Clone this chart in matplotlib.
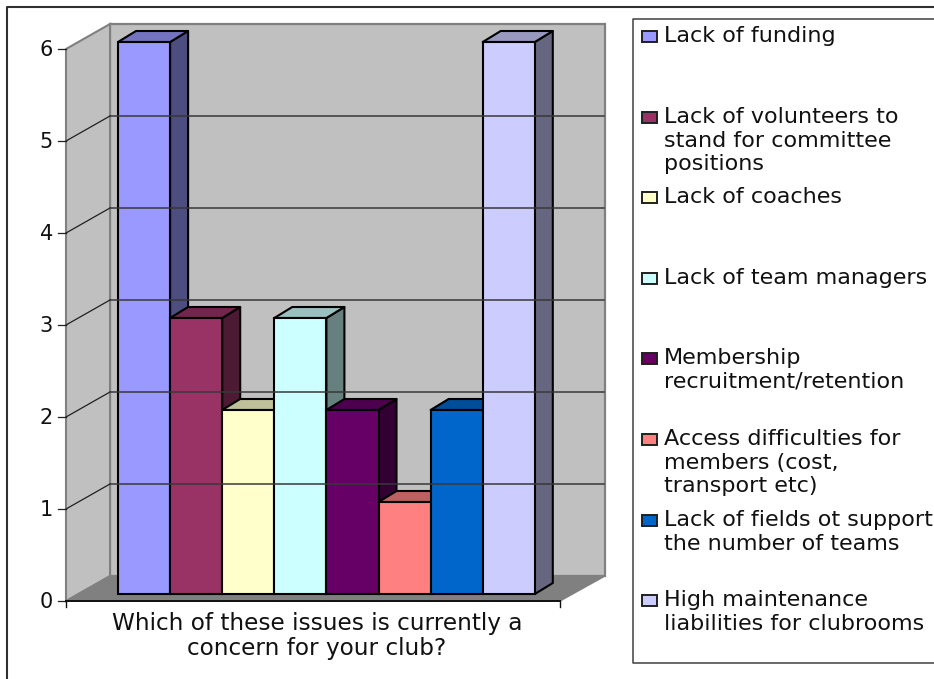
import matplotlib
matplotlib.use("Agg")
import matplotlib.pyplot as plt
from matplotlib.patches import Polygon, Rectangle

# data
issues = ["Lack of funding",
          "Lack of volunteers to\nstand for committee\npositions",
          "Lack of coaches",
          "Lack of team managers",
          "Membership\nrecruitment/retention",
          "Access difficulties for\nmembers (cost,\ntransport etc)",
          "Lack of fields ot support\nthe number of teams",
          "High maintenance\nliabilities for clubrooms"]
counts = [6, 3, 2, 3, 2, 1, 2, 6]
colors = ["#9999FF", "#993366", "#FFFFCC", "#CCFFFF",
          "#660066", "#FF8080", "#0066CC", "#CCCCFF"]
y_ticks = [0, 1, 2, 3, 4, 5, 6]
x_label = "Which of these issues is currently a\nconcern for your club?"

W, H = 934, 679
FONT = "DejaVu Sans"
FS = 16.0

# pixel layout of the fake 3d box
BAR_W = 52.1   # px per category
VAL_H = 92.0   # px per value
X0 = 118.0     # px of first bar left
Y0 = 601.0     # px of value 0 on the front plane


def shade(c, f):
    r, g, b = matplotlib.colors.to_rgb(c)
    return (r * f, g * f, b * f)


fig = plt.figure(figsize=(W / 100, H / 100), dpi=100)

# background axes in pixels: frames, walls, legend
bg = fig.add_axes([0, 0, 1, 1])
bg.set_xlim(0, W)
bg.set_ylim(H, 0)
bg.axis("off")

bg.plot([7, 7, W], [H, 6.5, 6.5], color="#303030", lw=1.5)
bg.plot([W, 632.5, 632.5, W], [19, 19, 663, 663], color="#404040", lw=1.1)

wall = "#C0C0C0"
edge = "#808080"
bg.add_patch(Polygon([(110, 24), (605, 24), (605, 576), (110, 576)], fc=wall, ec=edge, lw=1.6))
bg.add_patch(Polygon([(66, 601), (66, 49), (110, 24), (110, 576)], fc=wall, ec=edge, lw=1.5))
bg.add_patch(Polygon([(66, 601), (560, 601), (605, 576), (110, 576)], fc="#808080", ec=edge, lw=1.0))

# data axes on top: x in categories, y in values
ax = fig.add_axes([0, 0, 1, 1])
ax.set_xlim(-X0 / BAR_W, (W - X0) / BAR_W)
ax.set_ylim((Y0 - H) / VAL_H, Y0 / VAL_H)
ax.axis("off")
ax.patch.set_alpha(0)

WALL_L = (66 - X0) / BAR_W
WALL_R = (560 - X0) / BAR_W
DEPTH_X = 44 / BAR_W
DEPTH_Y = 25 / VAL_H
BAR_LIFT = 7 / VAL_H
BAR_DX = 18 / BAR_W
BAR_DY = 11 / VAL_H
TICK = 8 / BAR_W

for v in y_ticks:
    if 0 < v < y_ticks[-1]:
        ax.plot([WALL_L, WALL_L + DEPTH_X], [v, v + DEPTH_Y], color="#202020", lw=0.9)
        ax.plot([WALL_L + DEPTH_X, WALL_R + DEPTH_X], [v + DEPTH_Y, v + DEPTH_Y], color="#383838", lw=1.1)
    ax.plot([WALL_L - TICK, WALL_L], [v, v], color="#202020", lw=0.9)
    ax.text(WALL_L - 13 / BAR_W, v - 1 / VAL_H, str(v), ha="right", va="center",
            family=FONT, fontsize=15, color="#111111")

ax.plot([WALL_L, WALL_R], [0, 0], color="#101010", lw=1.4)
for x in [WALL_L, WALL_R]:
    ax.plot([x, x], [0, -6 / VAL_H], color="#101010", lw=1.0)

# bars, left to right so each covers its neighbour's side
for i, (v, c) in enumerate(zip(counts, colors)):
    b = BAR_LIFT
    t = v + BAR_LIFT
    ax.add_patch(Polygon([(i + 1, b), (i + 1 + BAR_DX, b + BAR_DY), (i + 1 + BAR_DX, t + BAR_DY), (i + 1, t)],
                         fc=shade(c, 0.5), ec="black", lw=1.5, joinstyle="round"))
    ax.add_patch(Polygon([(i, t), (i + BAR_DX, t + BAR_DY), (i + 1 + BAR_DX, t + BAR_DY), (i + 1, t)],
                         fc=shade(c, 0.75), ec="black", lw=1.5, joinstyle="round"))
    ax.add_patch(Rectangle((i, b), 1, v, fc=c, ec="black", lw=1.5))

bg.text(317, 636, x_label, ha="center", va="center", family=FONT, fontsize=16.7,
        linespacing=1.08, color="#111111")

# legend
first_line = [35, 116, 196, 277, 357, 438, 519, 599]
for name, c, y in zip(issues, colors, first_line):
    bg.add_patch(Rectangle((642, y - 4), 15, 11, fc=c, ec="#202020", lw=1.4))
    bg.text(664, y - 9, name, ha="left", va="top", family=FONT, fontsize=FS,
            linespacing=1.22, color="#111111", clip_on=True)

fig.savefig("out.png", dpi=100)
